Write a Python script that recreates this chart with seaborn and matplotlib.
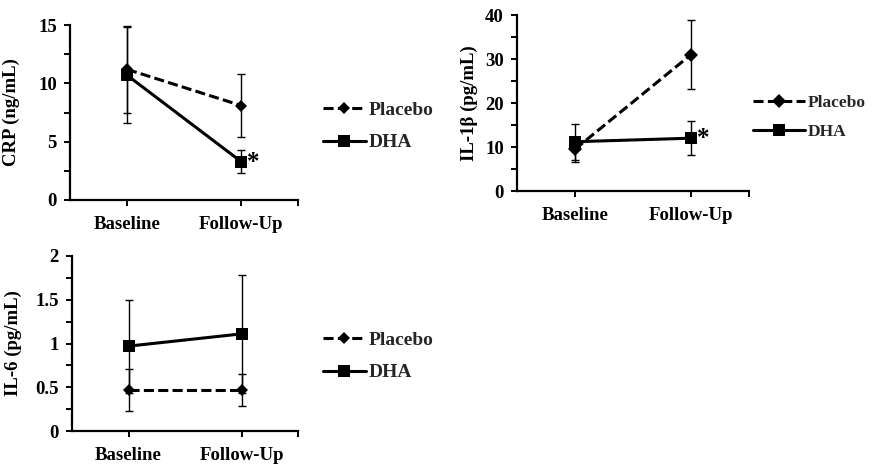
import numpy as np
import pandas as pd
from matplotlib import pyplot as plt
from matplotlib.lines import Line2D
from matplotlib.ticker import MultipleLocator, FixedLocator
import seaborn as sns

sns.set_theme(style='white')
plt.rcParams['font.family'] = ['Liberation Serif', 'DejaVu Serif']
plt.rcParams['font.weight'] = 'bold'

time_labels = ['Baseline', 'Follow-Up']
groups = ['Placebo', 'DHA']

crp_placebo = [11.2, 8.1]
crp_placebo_err = [3.7, 2.7]
crp_dha = [10.7, 3.3]
crp_dha_err = [4.1, 1.0]

il1b_placebo = [9.5, 31.0]
il1b_placebo_err = [2.8, 7.8]
il1b_dha = [11.2, 12.0]
il1b_dha_err = [4.1, 3.8]

il6_placebo = [0.47, 0.47]
il6_placebo_err = [0.24, 0.18]
il6_dha = [0.97, 1.11]
il6_dha_err = [0.53, 0.67]

FS = 13.5
LW = 2.2
DASH = (3.3, 1.4)


def make_df(placebo, p_err, dha, d_err):
    return pd.DataFrame({
        'time': time_labels * 2,
        'group': ['Placebo'] * 2 + ['DHA'] * 2,
        'value': list(placebo) + list(dha),
        'err': list(p_err) + list(d_err),
    })


def draw_panel(ax, df, ymax, major, ylabel, label_x, star=False, sq=8, star_off=(4, -1)):
    for g in groups:
        sub = df[df.group == g]
        ax.errorbar(np.arange(len(sub)), sub['value'], yerr=sub['err'], fmt='none',
                    ecolor='black', elinewidth=1, capsize=3, capthick=1, zorder=1)
    sns.lineplot(data=df, x='time', y='value', style='group', style_order=groups,
                 markers={'Placebo': 'D', 'DHA': 's'},
                 dashes={'Placebo': DASH, 'DHA': ''},
                 color='black', linewidth=LW, mec='black', mew=0,
                 markersize=sq, sort=False, legend=False, ax=ax, zorder=3)
    # placebo diamonds are a bit smaller than the squares
    for ln in ax.get_lines():
        if ln.get_marker() == 'D':
            ln.set_markersize(sq * 0.75)

    ax.set_xlim(-0.5, 1.5)
    ax.set_ylim(0, ymax)
    ax.yaxis.set_major_locator(MultipleLocator(major))
    ax.yaxis.set_minor_locator(MultipleLocator(major / 2))
    ax.xaxis.set_major_locator(FixedLocator([0, 1]))
    ax.xaxis.set_minor_locator(FixedLocator([1.5]))
    ax.set_xticks([0, 1])
    ax.set_xticklabels(time_labels)
    for s in ['top', 'right']:
        ax.spines[s].set_visible(False)
    for s in ['left', 'bottom']:
        ax.spines[s].set_color('black')
        ax.spines[s].set_linewidth(1.6)
    ax.tick_params(axis='both', which='both', direction='out', length=4.5,
                   width=1.4, color='black', labelsize=FS, labelcolor='black')
    ax.tick_params(axis='x', which='both', pad=7, bottom=True)
    ax.tick_params(axis='y', which='both', pad=5, left=True)
    for lab in ax.get_xticklabels() + ax.get_yticklabels():
        lab.set_fontweight('bold')
    ax.set_xlabel('')
    ax.set_ylabel(ylabel, fontsize=FS, fontweight='bold', color='black')
    ax.yaxis.set_label_coords(label_x, 0.5)
    ax.grid(False)

    if star:
        dha = df[df.group == 'DHA']
        ax.annotate('*', xy=(1, dha['value'].iloc[1]), xytext=star_off,
                    textcoords='offset points', fontsize=18, fontweight='bold',
                    ha='left', va='center', color='black')


def add_legend(fig, x, y, hl, ms_d=6, ms_s=8, size=14):
    handles = [
        Line2D([], [], color='black', lw=LW, ls=(0, DASH), marker='D', ms=ms_d, mew=0),
        Line2D([], [], color='black', lw=LW, marker='s', ms=ms_s, mew=0),
    ]
    fig.legend(handles, groups, loc='center left', bbox_to_anchor=(x, y),
               bbox_transform=fig.transFigure, frameon=False, borderpad=0,
               borderaxespad=0, handlelength=hl, handletextpad=0.15,
               labelspacing=0.75, prop={'size': size, 'weight': 'bold'})


fig = plt.figure(figsize=(8.73, 4.67), dpi=100)
W, H = 873, 467


def axes_px(left, right, top, bottom):
    return fig.add_axes([left / W, 1 - bottom / H, (right - left) / W, (bottom - top) / H])


ax1 = axes_px(70, 298, 25, 200)
ax2 = axes_px(517, 749, 15, 191)
ax3 = axes_px(72, 298, 256, 431)

draw_panel(ax1, make_df(crp_placebo, crp_placebo_err, crp_dha, crp_dha_err),
           15, 5, 'CRP (ng/mL)', -0.22, star=True)
draw_panel(ax2, make_df(il1b_placebo, il1b_placebo_err, il1b_dha, il1b_dha_err),
           40, 10, 'IL-1β (pg/mL)', -0.17, star=True, sq=9, star_off=(4, 0))
draw_panel(ax3, make_df(il6_placebo, il6_placebo_err, il6_dha, il6_dha_err),
           2, 0.5, 'IL-6 (pg/mL)', -0.22)
ax3.yaxis.set_major_formatter(plt.FuncFormatter(lambda v, p: f'{v:g}'))

add_legend(fig, 323 / W, 1 - 126.5 / H, 2.2)
add_legend(fig, 753 / W, 1 - 117.5 / H, 3.0, ms_d=7, ms_s=9, size=12.5)
add_legend(fig, 323 / W, 1 - 356.5 / H, 2.2)

fig.savefig('out.png', dpi=100)
